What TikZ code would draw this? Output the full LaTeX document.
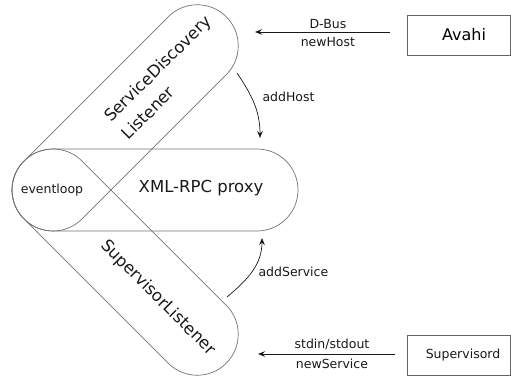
\documentclass[tikz,border=0pt]{standalone}
\usepackage{fontspec}
\setmainfont{DejaVu Sans}
\usetikzlibrary{arrows.meta}
\begin{document}
\begin{tikzpicture}[x=1pt,y=1pt,
  capsule/.style={draw=black!55, line width=0.7pt},
  bigtxt/.style={font=\fontsize{16.5}{24.7}\selectfont, text=black!90},
  smalltxt/.style={font=\fontsize{12.5}{15}\selectfont, text=black!90},
  extbox/.style={draw=black!60, line width=0.7pt, minimum width=103pt, minimum height=40pt, inner sep=0pt},
  arr/.style={-{Stealth[length=7pt,width=5.5pt,inset=2.5pt]}, line width=0.7pt, black!90}]
\useasboundingbox (0,0) rectangle (511,379);

% three capsules sharing the eventloop end
\foreach \a in {0,45,-45}{
  \begin{scope}[shift={(53,189)}, rotate=\a]
    \draw[capsule] (0,41) -- (204,41) arc[start angle=90,end angle=-90,radius=41]
      -- (0,-41) arc[start angle=-90,end angle=-270,radius=41] -- cycle;
  \end{scope}
}

\node[smalltxt] (ev) at (52,189) {eventloop};
\node[bigtxt] (xml) at (201,190.5) {XML-RPC proxy};
\node[bigtxt, rotate=45, align=left] (sd) at (166,302) {ServiceDiscovery\\Listener};
\node[bigtxt, rotate=-45] (sl) at (158,81) {SupervisorListener};

\node[extbox, font=\fontsize{16}{19}\selectfont, execute at begin node=\hspace*{11pt}] (avahi) at (458.5,344) {Avahi};
\node[extbox, smalltxt, execute at begin node=\hspace*{9pt}] (supd) at (458.5,24) {Supervisord};

% connectors
\coordinate (dbusS) at (390,347);
\coordinate (dbusE) at (255,347);
\draw[arr] (dbusS) -- (dbusE)
  node[smalltxt, pos=0.46, yshift=8pt] (dbus) {D-Bus}
  node[smalltxt, pos=0.46, yshift=-10pt] (nh) {newHost};

\coordinate (stdS) at (395,25);
\coordinate (stdE) at (258,25);
\draw[arr] (stdS) -- (stdE)
  node[smalltxt, pos=0.46, yshift=10pt] (std) {stdin/stdout}
  node[smalltxt, pos=0.46, yshift=-10pt] (ns) {newService};

\coordinate (hs) at (237,306);
\coordinate (he) at (260,241);
\draw[arr] (hs) to[out=-56,in=90] (he);
\node[smalltxt, anchor=west] (ah) at (259,282) {addHost};

\coordinate (ss) at (227,82);
\coordinate (se) at (262,141);
\draw[arr] (ss) to[out=40,in=-90] (se);
\node[smalltxt, anchor=west] (as) at (255,107) {addService};
\end{tikzpicture}
\end{document}
